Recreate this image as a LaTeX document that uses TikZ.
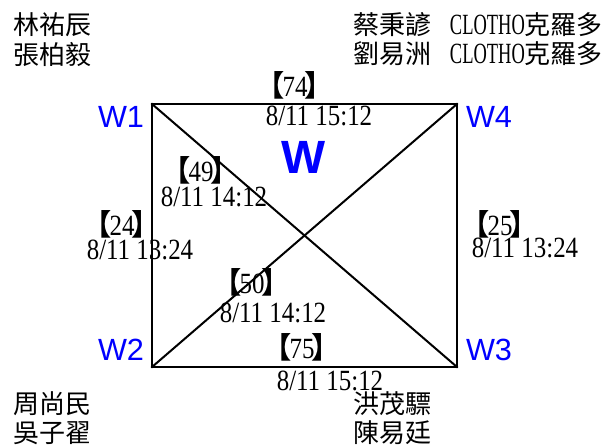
\documentclass[tikz,border=0pt]{standalone}
\usepackage{fontspec}
\setmainfont{Liberation Serif}
\newfontfamily\cjk{Noto Sans CJK TC}
\newfontfamily\cjkb{Noto Sans CJK TC Bold}
\newfontfamily\lat{Liberation Serif}[FakeStretch=0.85]
\newfontfamily\latn{Liberation Serif}[FakeStretch=0.63]
\newfontfamily\arial{Liberation Sans}
\newcommand\bk[1]{{\cjkb\fontsize{22}{22}\selectfont #1}}
\newcommand\brk[1]{\bk{【}\hspace{-2pt}{\lat #1}\hspace{-2pt}\bk{】}}
\tikzset{
  px/.style={x=0.75pt,y=-0.75pt},
  lbl/.style={inner sep=0pt, font=\lat\fontsize{22}{22}\selectfont},
  nm/.style={inner sep=0pt, anchor=west, font=\cjk\fontsize{19.5}{20}\selectfont},
  wl/.style={inner sep=0pt, text=blue, font=\arial\fontsize{23}{23}\selectfont},
  edge/.style={line width=1.5pt, line cap=rect}
}
\begin{document}
\begin{tikzpicture}[px]
\useasboundingbox (0,0) rectangle (608,446);
\coordinate (c1) at (152,104);
\coordinate (c4) at (457,104);
\coordinate (c3) at (457,367);
\coordinate (c2) at (152,367);
\draw[edge] (c1) rectangle (c3);
\draw[edge] (c1) -- (c3);
\draw[edge] (c2) -- (c4);

\node[nm] (n1) at (13,25) {林祐辰};
\node[nm] (n2) at (13,54) {張柏毅};
\node[nm] (n3) at (353,25) {蔡秉諺\hspace{14pt}{\latn\fontsize{22}{22}\selectfont CLOTHO}克羅多};
\node[nm] (n4) at (353,54) {劉易洲\hspace{14pt}{\latn\fontsize{22}{22}\selectfont CLOTHO}克羅多};
\node[nm] (n5) at (13,404) {周尚民};
\node[nm] (n6) at (13,433) {吳子翟};
\node[nm] (n7) at (353,404) {洪茂驃};
\node[nm] (n8) at (353,433) {陳易廷};

\node[wl] (w1) at (121,117) {W1};
\node[wl] (w4) at (489,117) {W4};
\node[wl] (w2) at (121,350) {W2};
\node[wl] (w3) at (489,350) {W3};
\node[inner sep=0pt, text=blue, font=\arial\bfseries\fontsize{35}{35}\selectfont] (wc) at (304,157) {W};

\node[lbl] (b74) at (295,85) {\brk{74}};
\node[lbl] (d74) at (319,116) {8/11 15:12};
\node[lbl] (b49) at (201,170) {\brk{49}};
\node[lbl] (d49) at (214,197) {8/11 14:12};
\node[lbl] (b24) at (122,224) {\brk{24}};
\node[lbl] (d24) at (140,250) {8/11 13:24};
\node[lbl] (b25) at (500,224) {\brk{25}};
\node[lbl] (d25) at (525,248) {8/11 13:24};
\node[lbl] (b50) at (252,282) {\brk{50}};
\node[lbl] (d50) at (273,313) {8/11 14:12};
\node[lbl] (b75) at (302,347) {\brk{75}};
\node[lbl] (d75) at (330,381) {8/11 15:12};
\end{tikzpicture}
\end{document}
